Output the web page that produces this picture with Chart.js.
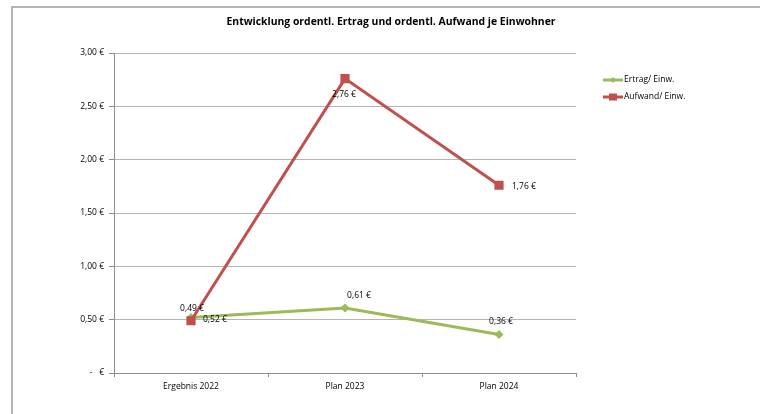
<!DOCTYPE html>
<html><head><meta charset="utf-8">
<script src="https://cdn.jsdelivr.net/npm/chart.js@4"></script>
<style>
html,body{margin:0;padding:0;background:#fff;}
#wrap{position:relative;width:760px;height:414px;}
#frame{position:absolute;left:11px;top:6px;right:0;bottom:0;border-top:2px solid #b4b4b4;border-left:2px solid #b4b4b4;pointer-events:none;}
canvas{position:absolute;left:0;top:0;}
</style></head>
<body><div id="wrap"><canvas id="c" width="760" height="414"></canvas><div id="frame"></div></div>
<script>
const titleText = 'Entwicklung ordentl. Ertrag und ordentl. Aufwand je Einwohner';
const categories = ['Ergebnis 2022', 'Plan 2023', 'Plan 2024'];
const seriesNames = ['Ertrag/ Einw.', 'Aufwand/ Einw.'];
const ertrag = [0.52, 0.61, 0.36];
const aufwand = [0.49, 2.76, 1.76];
const yTicks = [0, 0.5, 1, 1.5, 2, 2.5, 3];

const FONT = "'Open Sans', 'DejaVu Sans', sans-serif";
const fmt = v => v === 0 ? '-   €' : v.toFixed(2).replace('.', ',') + ' €';

// label placement per series/point: [dx, dy, align]
const labelPlacement = [
  [[12, 2, 'left'], [14, -12, 'center'], [2, -13, 'center']],
  [[1, -12, 'center'], [-1, 16, 'center'], [13, 1, 'left']]
];

const overlay = {
  id: 'overlay',
  afterDatasetsDraw(chart) {
    const ctx = chart.ctx;
    ctx.save();
    // title
    ctx.fillStyle = '#000';
    ctx.font = "bold 10.4px " + FONT;
    ctx.textAlign = 'center';
    ctx.textBaseline = 'middle';
    ctx.fillText(titleText, 391, 22);
    // data labels
    ctx.font = "8.5px " + FONT;
    ctx.fillStyle = '#000';
    chart.data.datasets.forEach((ds, i) => {
      const meta = chart.getDatasetMeta(i);
      meta.data.forEach((pt, j) => {
        const p = labelPlacement[i][j];
        ctx.textAlign = p[2];
        ctx.fillText(fmt(ds.data[j]), pt.x + p[0], pt.y + p[1]);
      });
    });
    // legend
    chart.data.datasets.forEach((ds, i) => {
      const y = 80 + i * 17;
      ctx.strokeStyle = ds.borderColor;
      ctx.lineWidth = 3;
      ctx.beginPath(); ctx.moveTo(603, y); ctx.lineTo(623, y); ctx.stroke();
      ctx.fillStyle = ds.borderColor;
      if (i === 0) {
        ctx.beginPath(); ctx.moveTo(613, y - 3); ctx.lineTo(616, y); ctx.lineTo(613, y + 3); ctx.lineTo(610, y); ctx.closePath(); ctx.fill();
      } else {
        ctx.fillRect(609, y - 3.5, 8, 7);
      }
      ctx.fillStyle = '#000';
      ctx.textAlign = 'left';
      ctx.font = "8.5px " + FONT;
      ctx.fillText(ds.label, 624, y);
    });
    ctx.restore();
  }
};

new Chart(document.getElementById('c'), {
  type: 'line',
  data: {
    labels: categories,
    datasets: [
      { label: seriesNames[0], data: ertrag, borderColor: '#9BBB59', backgroundColor: '#9BBB59', order: 1,
        borderWidth: 3, pointStyle: 'rectRot', pointRadius: 4.5, pointBorderWidth: 0, tension: 0 },
      { label: seriesNames[1], data: aufwand, borderColor: '#C0504D', backgroundColor: '#C0504D', order: 0,
        borderWidth: 3, pointStyle: 'rect', pointRadius: 6.5, pointBorderWidth: 0, tension: 0 }
    ]
  },
  options: {
    responsive: false,
    animation: false,
    devicePixelRatio: 1,
    layout: { padding: { left: 0, right: 184, top: 53, bottom: 0 } },
    plugins: { legend: { display: false }, title: { display: false }, tooltip: { enabled: false } },
    scales: {
      x: {
        offset: true,
        grid: { offset: true, drawOnChartArea: false, drawTicks: true, tickLength: 4, color: '#8c8c8c' },
        border: { color: '#8c8c8c', width: 1 },
        ticks: { color: '#000', font: { family: FONT, size: 8.5 }, padding: 4, maxRotation: 0 },
        afterFit(s) { s.height = 41; }
      },
      y: {
        min: 0, max: 3,
        afterBuildTicks(s) { s.ticks = yTicks.map(v => ({ value: v })); },
        grid: { color: '#b4b4b4', tickLength: 5, tickColor: '#8c8c8c' },
        border: { color: '#8c8c8c', width: 1 },
        ticks: { color: '#000', font: { family: FONT, size: 8.5 }, padding: 5, callback: v => fmt(v) },
        afterFit(s) { s.width = 114; }
      }
    }
  },
  plugins: [overlay]
});
</script></body></html>
